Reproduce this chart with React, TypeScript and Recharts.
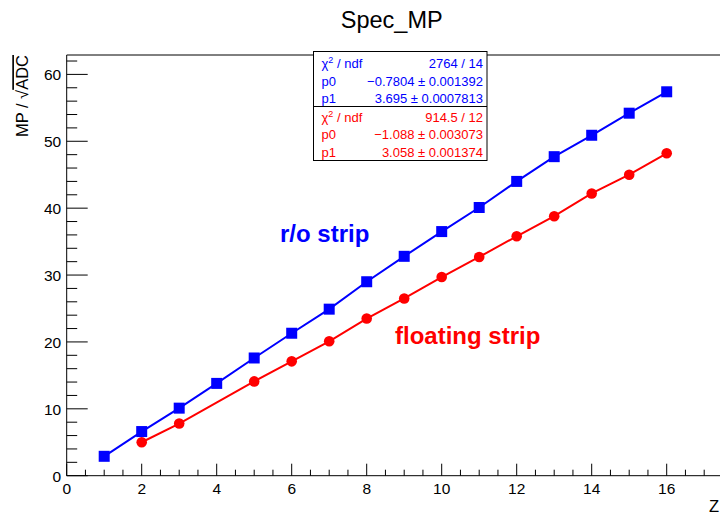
import React from "react";
import { LineChart, Line, XAxis, YAxis, ReferenceLine } from "recharts";

const zValues = [1, 2, 3, 4, 5, 6, 7, 8, 9, 10, 11, 12, 13, 14, 15, 16];
const roStrip = [2.9, 6.6, 10.1, 13.8, 17.6, 21.3, 24.9, 29.0, 32.8, 36.5, 40.1, 44.0, 47.7, 50.9, 54.2, 57.4];
const floatingStrip = [null, 5.0, 7.8, null, 14.1, 17.1, 20.1, 23.5, 26.5, 29.7, 32.7, 35.8, 38.8, 42.2, 45.0, 48.2];

const xTicks = Array.from({ length: 37 }, (_, i) => i * 0.5);
const xLabelled = [0, 2, 4, 6, 8, 10, 12, 14, 16];
const yTicks = Array.from({ length: 32 }, (_, i) => i * 2);
const yLabelled = [0, 10, 20, 30, 40, 50, 60];
const xMax = 18;
const yMax = 62.9;

const roStats = [
  ["chi", "2764 / 14"],
  ["p0", "\u22120.7804 \u00b1 0.001392"],
  ["p1", "3.695 \u00b1 0.0007813"],
];
const flStats = [
  ["chi", "914.5 / 12"],
  ["p0", "\u22121.088 \u00b1 0.003073"],
  ["p1", "3.058 \u00b1 0.001374"],
];

const data = zValues.map((z, i) => ({ z, ro: roStrip[i], fl: floatingStrip[i] }));

const FONT = "'Liberation Sans', Arial, Helvetica, sans-serif";

const XTick = (props: any) => {
  const { x, y, payload } = props;
  const v = payload.value;
  const major = Math.abs(v % 2) < 1e-9;
  return (
    <g>
      <line x1={x} x2={x} y1={y} y2={y - (major ? 12 : 6)} stroke="#000" strokeWidth={1} />
      {xLabelled.includes(v) && (
        <text x={x} y={y + 17.8} textAnchor="middle" fontFamily={FONT} fontSize={15.5} fill="#000">
          {v}
        </text>
      )}
    </g>
  );
};

const YTick = (props: any) => {
  const { x, y, payload } = props;
  const v = payload.value;
  const major = Math.abs(v % 10) < 1e-9;
  return (
    <g>
      <line x1={x} x2={x + (major ? 21 : 10.5)} y1={y} y2={y} stroke="#000" strokeWidth={1} />
      {yLabelled.includes(v) && (
        <text x={x - 5.5} y={y + 5.8} textAnchor="end" fontFamily={FONT} fontSize={15.5} fill="#000">
          {v}
        </text>
      )}
    </g>
  );
};

const SquareDot = (props: any) => {
  const { cx, cy, index } = props;
  if (cx == null || cy == null) return <g key={"s" + index} />;
  return <rect key={"s" + index} x={cx - 5.5} y={cy - 5.5} width={11} height={11} fill="#0000ff" />;
};

const CircleDot = (props: any) => {
  const { cx, cy, index } = props;
  if (cx == null || cy == null) return <g key={"c" + index} />;
  return <circle key={"c" + index} cx={cx} cy={cy} r={5.3} fill="#ff0000" />;
};

const StatsRows = ({ rows, top, color }: { rows: string[][]; top: number; color: string }) => (
  <g fontFamily={FONT} fontSize={13} fill={color}>
    {rows.map((r, i) => (
      <g key={i}>
        <text x={321.5} y={top + i * 17.5}>
          {r[0] === "chi" ? (
            <>
              {"\u03c7"}
              <tspan dy={-5} fontSize={9}>2</tspan>
              <tspan dy={5}>{" / ndf"}</tspan>
            </>
          ) : (
            r[0]
          )}
        </text>
        <text x={483} y={top + i * 17.5} textAnchor="end">
          {r[1]}
        </text>
      </g>
    ))}
  </g>
);

export default function App() {
  return (
    <div style={{ position: "fixed", left: 0, top: 0, width: 720, height: 515, overflow: "hidden", background: "#fff" }}>
      <LineChart
        width={760}
        height={515}
        data={data}
        margin={{ top: 55, right: 18.3, left: 0, bottom: 9.3 }}
      >
        <XAxis
          dataKey="z"
          type="number"
          domain={[0, xMax]}
          ticks={xTicks}
          interval={0}
          tickSize={0}
          tickMargin={0}
          tickLine={false}
          height={30}
          axisLine={{ stroke: "#000", strokeWidth: 1 }}
          tick={<XTick />}
          allowDataOverflow
        />
        <YAxis
          type="number"
          domain={[0, yMax]}
          ticks={yTicks}
          interval={0}
          tickSize={0}
          tickMargin={0}
          tickLine={false}
          width={66.7}
          axisLine={{ stroke: "#000", strokeWidth: 1 }}
          tick={<YTick />}
          allowDataOverflow
        />
        <ReferenceLine y={yMax} stroke="#000" strokeWidth={1} ifOverflow="extendDomain" />
        <Line
          dataKey="fl"
          type="linear"
          stroke="#ff0000"
          strokeWidth={2}
          connectNulls
          dot={<CircleDot />}
          activeDot={false}
          isAnimationActive={false}
        />
        <Line
          dataKey="ro"
          type="linear"
          stroke="#0000ff"
          strokeWidth={2}
          dot={<SquareDot />}
          activeDot={false}
          isAnimationActive={false}
        />
      </LineChart>
      <svg
        width={720}
        height={515}
        style={{ position: "absolute", left: 0, top: 0, pointerEvents: "none" }}
      >
        <text x={391.7} y={28.3} textAnchor="middle" fontFamily={FONT} fontSize={23.5} fill="#000">
          Spec_MP
        </text>
        <text
          x={28.3}
          y={55}
          transform="rotate(-90, 28.3, 55)"
          textAnchor="end"
          fontFamily={FONT}
          fontSize={16.5}
          fill="#000"
        >
          {"MP / \u221a"}
          <tspan textDecoration="overline" style={{ textDecoration: "overline" }}>ADC</tspan>
        </text>
        <text x={709} y={511.5} fontFamily={FONT} fontSize={16.5} fill="#000">
          Z
        </text>
        <rect x={313.5} y={51.5} width={173.5} height={109} fill="#fff" stroke="#000" strokeWidth={1} />
        <line x1={313.5} x2={487} y1={106.5} y2={106.5} stroke="#000" strokeWidth={1} />
        <StatsRows rows={roStats} top={68} color="#0000ff" />
        <StatsRows rows={flStats} top={121.5} color="#ff0000" />
        <text x={280} y={241.5} fontFamily={FONT} fontSize={24} fontWeight="bold" fill="#0000ff">
          r/o strip
        </text>
        <text x={395} y={344} fontFamily={FONT} fontSize={24} fontWeight="bold" fill="#ff0000">
          floating strip
        </text>
      </svg>
    </div>
  );
}
